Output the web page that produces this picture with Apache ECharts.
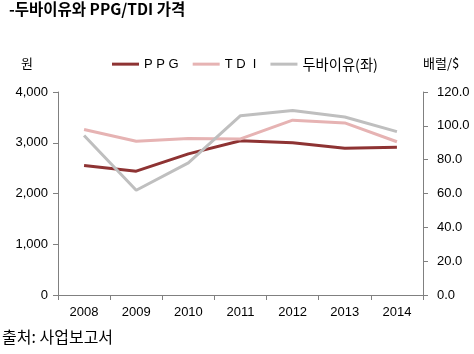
<!DOCTYPE html>
<html><head><meta charset="utf-8">
<script src="https://cdn.jsdelivr.net/npm/echarts@6/dist/echarts.min.js"></script>
<style>html,body{margin:0;padding:0;background:#fff}#c{width:474px;height:354px}</style>
</head><body><div id="c"></div>
<script>
const categories = ['2008','2009','2010','2011','2012','2013','2014'];
const ppg = [2550, 2440, 2780, 3040, 3000, 2890, 2910];
const tdi = [3260, 3030, 3085, 3075, 3445, 3390, 3020];
const dubai = [94.3, 61.9, 78.1, 106.0, 109.0, 105.2, 96.6];
const leftTicks = {min: 0, max: 4000, interval: 1000};
const rightTicks = {min: 0, max: 120, interval: 20};

const FONT = '"Liberation Sans", Arial, "Noto Sans CJK KR", sans-serif';
const KFONT = '"Noto Sans CJK KR", "Liberation Sans", sans-serif';
const chart = echarts.init(document.getElementById('c'));
chart.setOption({
  animation: false,
  backgroundColor: '#fff',
  title: [
    {text: '-두바이유와 PPG/TDI 가격', left: 9, top: 1, padding: 0,
     textStyle: {fontFamily: KFONT, fontSize: 15.5, fontWeight: 'bold', color: '#000'}},
    {text: '출처: 사업보고서', left: 2, top: 329, padding: 0,
     textStyle: {fontFamily: KFONT, fontSize: 16, fontWeight: 'normal', color: '#000'}},
    {text: '원', left: 21, top: 57, padding: 0,
     textStyle: {fontFamily: KFONT, fontSize: 13, fontWeight: 'normal', color: '#000'}},
    {text: '배럴/$', left: 423, top: 57, padding: 0,
     textStyle: {fontFamily: KFONT, fontSize: 13, fontWeight: 'normal', color: '#000'}}
  ],
  legend: {
    top: 52, left: 107,
    itemWidth: 27, itemHeight: 3, itemGap: 14,
    icon: 'rect',
    formatter: name => /[가-힣]/.test(name) ? '{k|' + name + '}' : name,
    textStyle: {fontFamily: FONT, fontSize: 13, color: '#000',
      rich: {k: {fontFamily: KFONT, fontSize: 14.3, color: '#000'}}},
    data: ['P P G', 'T D  I', '두바이유(좌)']
  },
  grid: {left: 58, right: 51, top: 92, bottom: 59},
  xAxis: {
    type: 'category', data: categories, boundaryGap: true,
    axisLine: {lineStyle: {color: '#808080'}},
    axisTick: {show: true, length: 5, lineStyle: {color: '#808080'}},
    axisLabel: {fontFamily: FONT, fontSize: 13, color: '#000', margin: 11}
  },
  yAxis: [
    {type: 'value', min: leftTicks.min, max: leftTicks.max, interval: leftTicks.interval,
     axisLine: {show: true, lineStyle: {color: '#808080'}},
     axisTick: {show: true, length: 5, lineStyle: {color: '#808080'}},
     splitLine: {show: false},
     axisLabel: {fontFamily: FONT, fontSize: 13, color: '#000', margin: 10,
       formatter: v => v.toLocaleString('en-US')}},
    {type: 'value', position: 'right', min: rightTicks.min, max: rightTicks.max, interval: rightTicks.interval,
     axisLine: {show: true, lineStyle: {color: '#808080'}},
     axisTick: {show: true, length: 5, lineStyle: {color: '#808080'}},
     splitLine: {show: false},
     axisLabel: {fontFamily: FONT, fontSize: 13, color: '#000', margin: 14,
       formatter: v => v.toFixed(1)}}
  ],
  series: [
    {name: 'P P G', type: 'line', yAxisIndex: 0, data: ppg, symbol: 'none',
     itemStyle: {color: '#8E3333'}, lineStyle: {width: 3, color: '#8E3333'}},
    {name: 'T D  I', type: 'line', yAxisIndex: 0, data: tdi, symbol: 'none',
     itemStyle: {color: '#E6B3B3'}, lineStyle: {width: 3, color: '#E6B3B3'}},
    {name: '두바이유(좌)', type: 'line', yAxisIndex: 1, data: dubai, symbol: 'none',
     itemStyle: {color: '#BFBFBF'}, lineStyle: {width: 3, color: '#BFBFBF'}}
  ]
});
</script></body></html>
